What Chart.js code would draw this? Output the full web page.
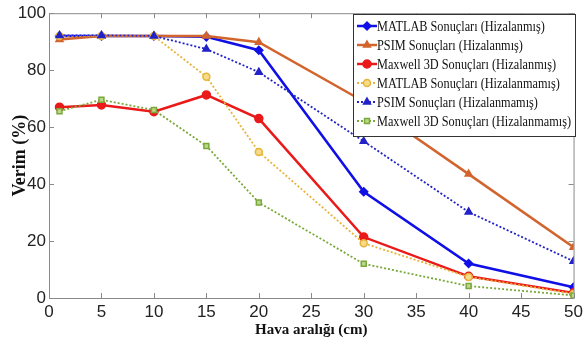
<!DOCTYPE html>
<html>
<head>
<meta charset="utf-8">
<script src="https://cdn.jsdelivr.net/npm/chart.js@4.4.0/dist/chart.umd.min.js"></script>
<style>
  html, body { margin: 0; padding: 0; background: #fff; }
  #wrap { width: 587px; height: 339px; }
</style>
</head>
<body>
<div id="wrap"><canvas id="grafico" width="587" height="339"></canvas></div>
<script>
const havaAraligi = [1, 5, 10, 15, 20, 30, 40, 50];
const seriAdlari = [
  'MATLAB Sonuçları (Hizalanmış)',
  'PSIM Sonuçları (Hizalanmış)',
  'Maxwell 3D Sonuçları (Hizalanmış)',
  'MATLAB Sonuçları (Hizalanmamış)',
  'PSIM Sonuçları (Hizalanmamış)',
  'Maxwell 3D Sonuçları (Hizalanmamış)'
];
const matlabHiz   = [92, 92, 92, 91.7, 87, 37.3, 12.1, 3.8];
const psimHiz     = [90.8, 92, 92, 92, 89.8, 69, 43.5, 17.8];
const maxwellHiz  = [67, 67.8, 65.4, 71.3, 63, 21.4, 7.6, 1.8];
const matlabHizY  = [92, 92, 92, 77.7, 51.3, 19.2, 7.4, 1.5];
const psimHizY    = [92.2, 92.2, 92, 87.4, 79.3, 55, 30.2, 12.9];
const maxwellHizY = [65.6, 69.6, 66, 53.4, 33.5, 12, 4.2, 0.9];
const xTikler = [0, 5, 10, 15, 20, 25, 30, 35, 40, 45, 50];
const yTikler = [0, 20, 40, 60, 80, 100];

const stiller = [
  { renk: '#1010e6', dolgu: '#1010e6', nokta: 'rectRot', r: 4, kesik: [], kalinlik: 2.5 },
  { renk: '#d2642e', dolgu: '#d2642e', nokta: 'triangle', r: 4, kesik: [], kalinlik: 2.5 },
  { renk: '#ea1a1a', dolgu: '#ea1a1a', nokta: 'circle', r: 4, kesik: [], kalinlik: 2.5 },
  { renk: '#e6b43a', dolgu: '#f6dc8a', nokta: 'circle', r: 3.5, kesik: [2, 2], kalinlik: 1.8 },
  { renk: '#2222c8', dolgu: '#2222c8', nokta: 'triangle', r: 4, kesik: [2, 2], kalinlik: 1.8 },
  { renk: '#7aa83a', dolgu: '#b9d88a', nokta: 'rect', r: 3.5, kesik: [2, 2], kalinlik: 1.8 }
];
const seriler = [matlabHiz, psimHiz, maxwellHiz, matlabHizY, psimHizY, maxwellHizY];

const datasets = seriler.map((s, i) => ({
  label: seriAdlari[i],
  data: s.map((v, k) => ({ x: havaAraligi[k], y: v })),
  borderColor: stiller[i].renk,
  backgroundColor: stiller[i].dolgu,
  pointBorderColor: stiller[i].renk,
  pointBackgroundColor: stiller[i].dolgu,
  pointStyle: stiller[i].nokta,
  pointRadius: stiller[i].r,
  pointBorderWidth: 1.5,
  borderWidth: stiller[i].kalinlik,
  borderDash: stiller[i].kesik,
  tension: 0,
  order: 10 - i
}));

// MATLAB tarzi cerceve ve iceri bakan tik cizgileri
const cerceve = {
  id: 'cerceve',
  beforeDatasetsDraw(chart) {
    const { ctx, chartArea: a, scales } = chart;
    ctx.save();
    ctx.strokeStyle = '#8a8a8a';
    ctx.lineWidth = 1;
    ctx.strokeRect(a.left + 0.5, a.top + 0.5, a.right - a.left, a.bottom - a.top);
    const L = 5;
    ctx.beginPath();
    xTikler.forEach(t => {
      const px = Math.round(scales.x.getPixelForValue(t)) + 0.5;
      ctx.moveTo(px, a.bottom); ctx.lineTo(px, a.bottom - L);
      ctx.moveTo(px, a.top); ctx.lineTo(px, a.top + L);
    });
    yTikler.forEach(t => {
      const py = Math.round(scales.y.getPixelForValue(t)) + 0.5;
      ctx.moveTo(a.left, py); ctx.lineTo(a.left + L, py);
      ctx.moveTo(a.right, py); ctx.lineTo(a.right - L, py);
    });
    ctx.stroke();
    ctx.restore();
  }
};

// lejant, grafik alaninin icinde sag ustte
const lejant = {
  id: 'lejant',
  afterDraw(chart) {
    const { ctx } = chart;
    const x0 = 353, y0 = 14, w = 222, satir = 19;
    const h = satir * chart.data.datasets.length + 8;
    ctx.save();
    ctx.fillStyle = '#fff';
    ctx.fillRect(x0, y0, w, h);
    ctx.strokeStyle = '#333';
    ctx.lineWidth = 1;
    ctx.strokeRect(x0 + 0.5, y0 + 0.5, w, h);
    ctx.font = '15px "Liberation Serif", "Times New Roman", serif';
    ctx.textBaseline = 'middle';
    const enUzun = Math.max(...chart.data.datasets.map(d => ctx.measureText(d.label).width));
    const olcek = 194 / enUzun;
    chart.data.datasets.forEach((ds, i) => {
      const y = y0 + 12 + i * satir;
      ctx.strokeStyle = ds.borderColor;
      ctx.lineWidth = ds.borderWidth;
      ctx.setLineDash(ds.borderDash);
      ctx.beginPath();
      ctx.moveTo(x0 + 4, y); ctx.lineTo(x0 + 24, y);
      ctx.stroke();
      ctx.setLineDash([]);
      ctx.lineWidth = 1.5;
      ctx.fillStyle = ds.pointBackgroundColor;
      Chart.helpers.drawPoint(ctx, { pointStyle: ds.pointStyle, radius: ds.pointRadius, borderWidth: 1.5, rotation: 0 }, x0 + 14, y);
      ctx.save();
      ctx.translate(x0 + 24, y + 1);
      ctx.scale(olcek, 1);
      ctx.fillStyle = '#111';
      ctx.fillText(ds.label, 0, 0);
      ctx.restore();
    });
    ctx.restore();
  }
};

new Chart(document.getElementById('grafico'), {
  type: 'line',
  data: { datasets },
  options: {
    responsive: false,
    animation: false,
    layout: { padding: { left: 0, right: 10, top: 9, bottom: 0 } },
    plugins: { legend: { display: false }, tooltip: { enabled: false } },
    scales: {
      x: {
        type: 'linear', min: 0, max: 50,
        afterBuildTicks: s => { s.ticks = xTikler.map(v => ({ value: v })); },
        afterFit: s => { s.height = 41; },
        grid: { display: false, drawTicks: false },
        border: { display: false },
        ticks: { color: '#222', padding: 4, maxRotation: 0, font: { family: '"Liberation Sans Narrow", "Liberation Sans", Arial, sans-serif', size: 17 } },
        title: { display: true, text: 'Hava aralığı (cm)', color: '#111', padding: { top: -4, bottom: 0 }, font: { family: '"Liberation Serif", "Times New Roman", serif', size: 15, weight: 'bold' } }
      },
      y: {
        min: 0, max: 100,
        afterBuildTicks: s => { s.ticks = yTikler.map(v => ({ value: v })); },
        afterFit: s => { s.width = 49; },
        grid: { display: false, drawTicks: false },
        border: { display: false },
        ticks: { color: '#222', padding: 3, font: { family: '"Liberation Sans Narrow", "Liberation Sans", Arial, sans-serif', size: 17 } },
        title: { display: true, text: 'Verim (%)', color: '#111', padding: { top: 10, bottom: 0 }, font: { family: '"Liberation Serif", "Times New Roman", serif', size: 18, weight: 'bold' } }
      }
    }
  },
  plugins: [cerceve, lejant]
});
</script>
</body>
</html>
